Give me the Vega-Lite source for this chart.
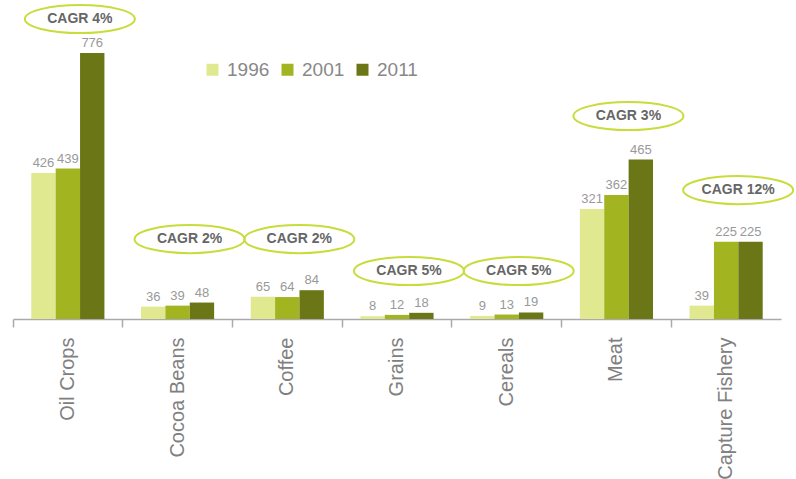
{
  "$schema": "https://vega.github.io/schema/vega-lite/v6.json",
  "autosize": {"type": "none"},
  "width": 768,
  "height": 319,
  "padding": {"left": 13, "top": 0, "right": 15, "bottom": 160},
  "config": {"view": {"stroke": null}, "font": "Liberation Sans, Arial, sans-serif"},
  "datasets": {
    "bars": [
      {"category": "Oil Crops", "year": "1996", "value": 426},
      {"category": "Oil Crops", "year": "2001", "value": 439},
      {"category": "Oil Crops", "year": "2011", "value": 776},
      {"category": "Cocoa Beans", "year": "1996", "value": 36},
      {"category": "Cocoa Beans", "year": "2001", "value": 39},
      {"category": "Cocoa Beans", "year": "2011", "value": 48},
      {"category": "Coffee", "year": "1996", "value": 65},
      {"category": "Coffee", "year": "2001", "value": 64},
      {"category": "Coffee", "year": "2011", "value": 84},
      {"category": "Grains", "year": "1996", "value": 8},
      {"category": "Grains", "year": "2001", "value": 12},
      {"category": "Grains", "year": "2011", "value": 18},
      {"category": "Cereals", "year": "1996", "value": 9},
      {"category": "Cereals", "year": "2001", "value": 13},
      {"category": "Cereals", "year": "2011", "value": 19},
      {"category": "Meat", "year": "1996", "value": 321},
      {"category": "Meat", "year": "2001", "value": 362},
      {"category": "Meat", "year": "2011", "value": 465},
      {"category": "Capture Fishery", "year": "1996", "value": 39},
      {"category": "Capture Fishery", "year": "2001", "value": 225},
      {"category": "Capture Fishery", "year": "2011", "value": 225}
    ],
    "cagr": [
      {"category": "Oil Crops", "cagr": "CAGR 4%", "label_y": 875},
      {"category": "Cocoa Beans", "cagr": "CAGR 2%", "label_y": 233},
      {"category": "Coffee", "cagr": "CAGR 2%", "label_y": 233},
      {"category": "Grains", "cagr": "CAGR 5%", "label_y": 140},
      {"category": "Cereals", "cagr": "CAGR 5%", "label_y": 140},
      {"category": "Meat", "cagr": "CAGR 3%", "label_y": 592},
      {"category": "Capture Fishery", "cagr": "CAGR 12%", "label_y": 376}
    ]
  },
  "resolve": {"axis": {"x": "independent"}},
  "layer": [
    {
      "data": {"name": "bars"},
      "mark": {"type": "bar"},
      "encoding": {
        "x": {
          "field": "category", "type": "nominal", "sort": null,
          "scale": {"paddingInner": 0, "paddingOuter": 0},
          "axis": {"orient": "bottom", "bandPosition": 0, "labels": false, "title": null, "domainColor": "#aaaaaa", "domainWidth": 1.5, "tickColor": "#aaaaaa", "tickWidth": 1.5, "tickSize": 8}
        },
        "xOffset": {"field": "year", "type": "nominal", "scale": {"paddingInner": 0, "paddingOuter": 0.75}},
        "y": {"field": "value", "type": "quantitative", "scale": {"domain": [0, 930.6], "nice": false}, "axis": null},
        "color": {
          "field": "year", "type": "nominal",
          "scale": {"domain": ["1996", "2001", "2011"], "range": ["#e0e98f", "#a3b421", "#6b7717"]},
          "legend": {
            "orient": "none", "legendX": 190, "legendY": 60, "direction": "horizontal", "title": null,
            "symbolType": "square", "symbolSize": 144, "symbolStrokeWidth": 0, "symbolOpacity": 1,
            "labelFontSize": 19, "labelColor": "#888888", "labelOffset": 5, "columnPadding": 8, "padding": 0
          }
        }
      }
    },
    {
      "data": {"name": "bars"},
      "mark": {"type": "text", "baseline": "alphabetic", "dy": -6, "fontSize": 13, "color": "#999999"},
      "encoding": {
        "x": {
          "field": "category", "type": "nominal", "sort": null,
          "axis": {"orient": "bottom", "title": null, "domain": false, "ticks": false, "tickSize": 0, "labelAngle": 270, "labelAlign": "right", "labelBaseline": "middle", "labelPadding": 18, "labelFontSize": 20, "labelColor": "#808080"}
        },
        "xOffset": {"field": "year", "type": "nominal"},
        "y": {"field": "value", "type": "quantitative"},
        "text": {"field": "value", "type": "quantitative"}
      }
    },
    {
      "data": {"name": "cagr"},
      "mark": {"type": "point", "shape": "M-1,0 A1,0.255 0 1,1 1,0 A1,0.255 0 1,1 -1,0 Z", "size": 12100, "filled": false, "stroke": "#c8dc3c", "strokeWidth": 2, "opacity": 1, "xOffset": 12},
      "encoding": {
        "x": {"field": "category", "type": "nominal", "sort": null, "axis": null},
        "y": {"field": "label_y", "type": "quantitative"}
      }
    },
    {
      "data": {"name": "cagr"},
      "mark": {"type": "text", "baseline": "middle", "align": "center", "fontSize": 14, "fontWeight": "bold", "color": "#666666", "dx": 12},
      "encoding": {
        "x": {"field": "category", "type": "nominal", "sort": null, "axis": null},
        "y": {"field": "label_y", "type": "quantitative"},
        "text": {"field": "cagr"}
      }
    }
  ]
}
